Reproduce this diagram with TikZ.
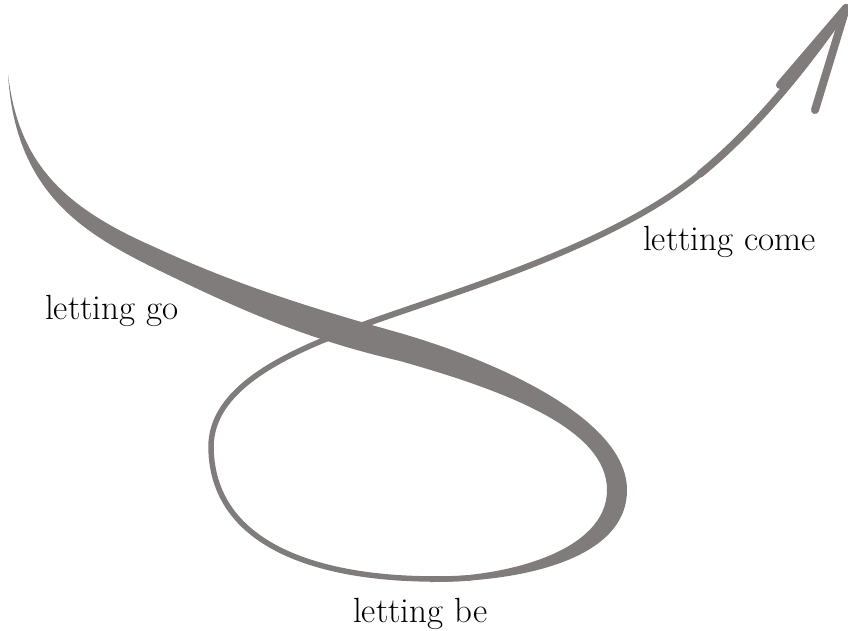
\documentclass[tikz,border=0pt]{standalone}
\usepackage{xcolor}
\usepackage{tikz}
\usetikzlibrary{positioning}

\definecolor{brushgray}{RGB}{128,124,124}

\begin{document}
\begin{tikzpicture}[x=1pt,y=-1pt,
    stage/.style={font=\fontsize{35}{40}\selectfont, inner sep=0pt, anchor=base west},
    brushline/.style={draw=brushgray, line width=#1, line cap=round, line join=round}]

    \useasboundingbox (0,0) rectangle (848,630);

    % Thin loop and rising line
    \coordinate (tip) at (846,8);
    \draw[brushline=5.5pt] (470,578) .. controls (340,585) and (212,555) .. (211,447)
        .. controls (211,390) and (280,355) .. (360,326);
    \draw[brushline=6pt] (360,326) .. controls (450,293) and (610,248) .. (700,174);
    \draw[brushline=7.5pt] (700,174) .. controls (760,125) and (810,60) .. (tip);

    % Arrow head
    \draw[brushline=8pt] (tip) -- (780,85);
    \draw[brushline=8pt] (tip) -- (815,110);

    % Thick brush stroke
    \fill[brushgray] (8,74) .. controls (18,160) and (60,205) .. (150,245)
        .. controls (230,282) and (300,305) .. (400,333)
        .. controls (500,362) and (627,420) .. (627,490)
        .. controls (627,560) and (520,582) .. (430,582)
        -- (430,577)
        .. controls (510,577) and (607,550) .. (607,490)
        .. controls (607,430) and (510,392) .. (400,361)
        .. controls (300,338) and (230,305) .. (150,266)
        .. controls (80,231) and (15,190) .. (8,74) -- cycle;

    % Labels
    \node[stage] (go) at (45,319) {letting go};
    \node[stage] (be) at (353,622) {letting be};
    \node[stage] (come) at (643,250) {letting come};

\end{tikzpicture}
\end{document}
